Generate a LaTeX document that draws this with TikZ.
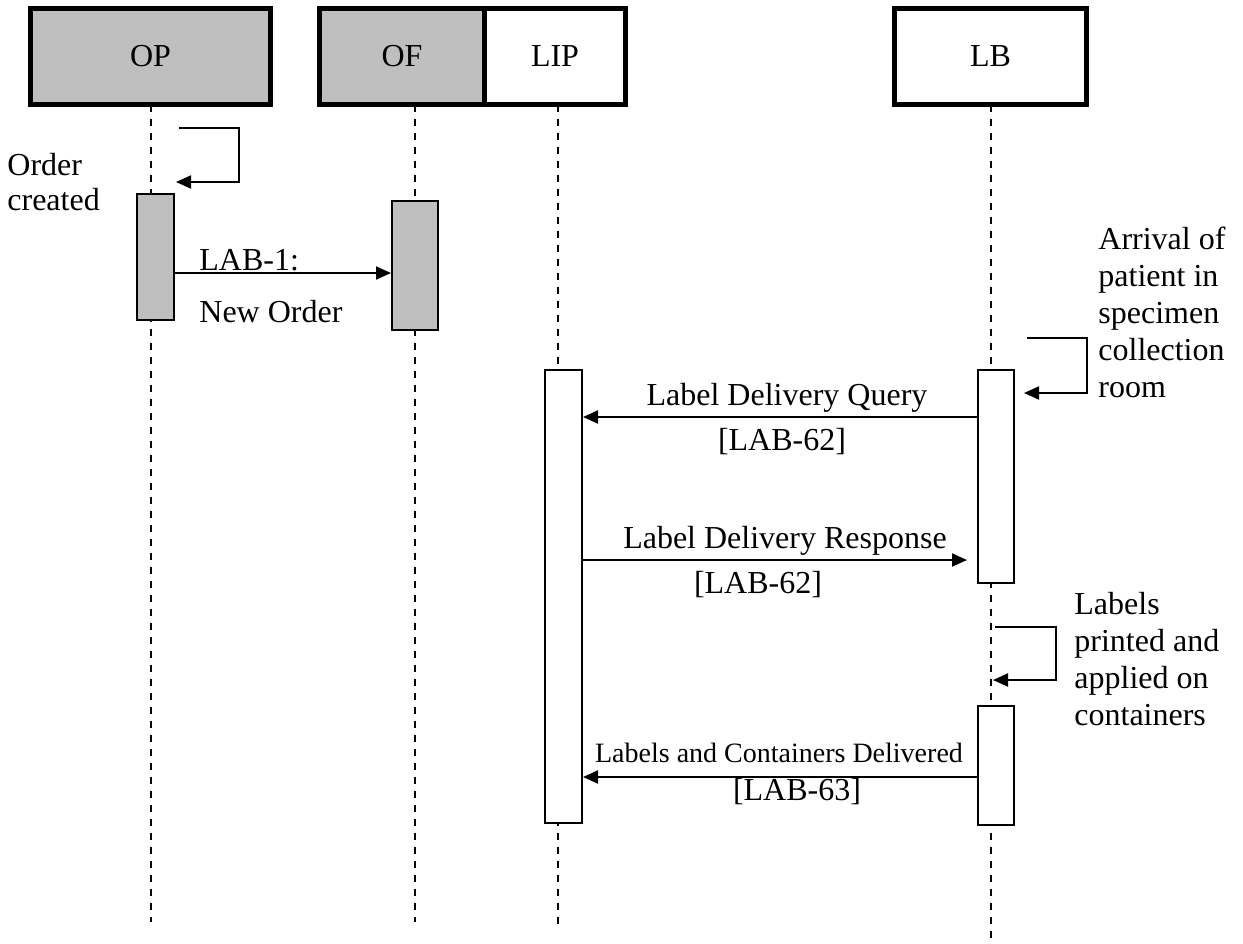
\documentclass[tikz,border=0pt]{standalone}
\usepackage{fontspec}
\setmainfont{Liberation Serif}
\usetikzlibrary{arrows.meta, positioning}

\begin{document}
\begin{tikzpicture}[x=0.5pt, y=-0.5pt, font=\fontsize{16}{18.5}\selectfont,
    head/.style = {draw, line width=2.5pt, outer sep=0pt, minimum height=48pt, inner sep=0pt},
    act/.style = {draw, line width=1pt, inner sep=0pt},
    life/.style = {line width=0.8pt, dash pattern=on 3.5pt off 3.5pt},
    msg/.style = {line width=1pt, -{Triangle[length=7.5pt, width=6.5pt]}},
    txt/.style = {inner sep=0pt},
    note/.style = {inner sep=0pt, align=left, anchor=base west}]
    \useasboundingbox (0,0) rectangle (1243,943);
    % heads
    \node[head, fill=gray!50, minimum width=120pt] (op) at (150.5,56.5) {OP};
    \node[head, fill=gray!50, minimum width=82.5pt] (of) at (402,56.5) {OF};
    \node[head, minimum width=70.5pt] (lip) [right=0pt of of] {LIP};
    \node[head, minimum width=96pt] (lb) at (990.5,56.5) {LB};
    % lifelines
    \coordinate (opend) at (151,922);
    \coordinate (ofend) at (415,922);
    \coordinate (lipend) at (558,925);
    \coordinate (lbend) at (991,943);
    \draw[life] (opend |- op.south) -- (opend);
    \draw[life] (ofend |- of.south) -- (ofend);
    \draw[life] (lipend |- lip.south) -- (lipend);
    \draw[life] (lbend |- lb.south) -- (lbend);
    % activations
    \node[act, fill=gray!50, minimum width=18.5pt, minimum height=63pt] (a1) at (155.5,257) {};
    \node[act, fill=gray!50, minimum width=23pt, minimum height=64.5pt] (a2) at (415,265.5) {};
    \node[act, fill=white, minimum width=18.5pt, minimum height=226.5pt] (a3) at (563.5,596.5) {};
    \node[act, fill=white, minimum width=18pt, minimum height=106.5pt] (a4) at (996,476.5) {};
    \node[act, fill=white, minimum width=18pt, minimum height=59.5pt] (a5) at (996,765.5) {};
    % messages
    \coordinate (m1) at (0,273);
    \coordinate (m2) at (0,417);
    \coordinate (m3) at (0,560);
    \coordinate (m4) at (0,777);
    \draw[msg] (a1.east |- m1) -- (a2.west |- m1);
    \draw[msg] (a4.west |- m2) -- (a3.east |- m2);
    \draw[msg, shorten >=5pt] (a3.east |- m3) -- (a4.west |- m3);
    \draw[msg] (a5.west |- m4) -- (a3.east |- m4);
    % self calls
    \coordinate (s1a) at (179,128);
    \coordinate (s1b) at (176,182);
    \coordinate (s2a) at (1027,338);
    \coordinate (s2b) at (1024,393);
    \coordinate (s3a) at (995,627);
    \coordinate (s3b) at (993,680);
    \draw[msg] (s1a) -- ++(60,0) |- (s1b);
    \draw[msg] (s2a) -- ++(60,0) |- (s2b);
    \draw[msg] (s3a) -- ++(61,0) |- (s3b);
    % texts
    \node[note, font=\fontsize{16}{17.5}\selectfont] (order) at (7,210) {Order\\created};
    \node[txt, anchor=base west] (lab1) at (199,270) {LAB-1:};
    \node[txt, anchor=base west] (neworder) at (199,322) {New Order};
    \node[txt, anchor=base] (query) at (787,405) {Label Delivery Query};
    \node[txt, anchor=base] (query2) at (782,450) {[LAB-62]};
    \node[txt, anchor=base] (resp) at (785,548) {Label Delivery Response};
    \node[txt, anchor=base] (resp2) at (758,593) {[LAB-62]};
    \node[txt, anchor=base, font=\fontsize{14}{16}\selectfont] (deliv) at (779,762) {Labels and Containers Delivered};
    \node[txt, anchor=base] (deliv2) at (797,800) {[LAB-63]};
    \node[note] (arrival) at (1098,397) {Arrival of\\patient in\\specimen\\collection\\room};
    \node[note] (printed) at (1074,725) {Labels\\printed and\\applied on\\containers};
\end{tikzpicture}
\end{document}
